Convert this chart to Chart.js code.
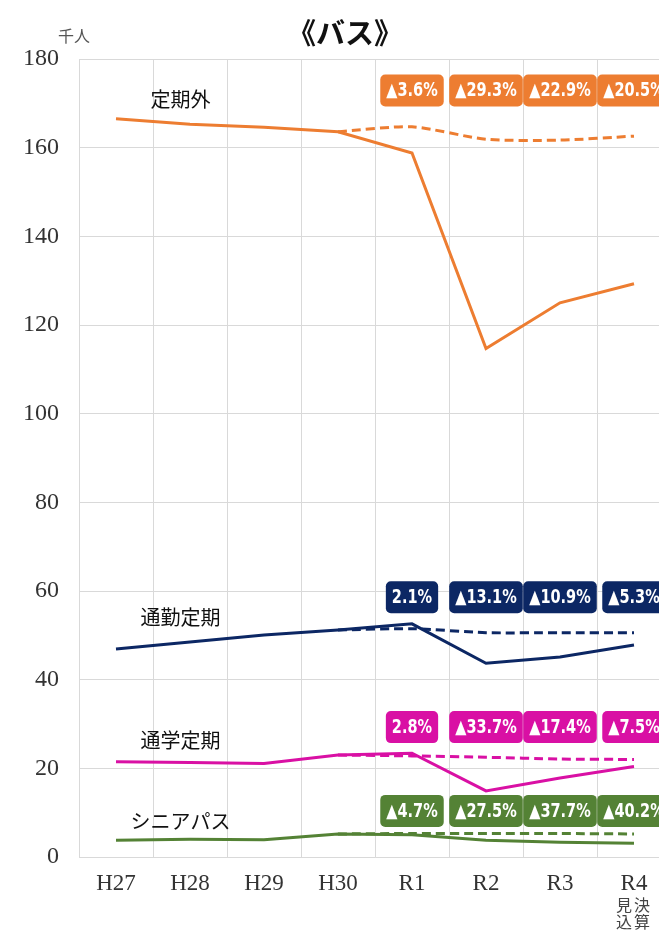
<!DOCTYPE html>
<html>
<head>
<meta charset="utf-8">
<script src="https://cdn.jsdelivr.net/npm/chart.js@4"></script>
<style>
  body { margin: 0; background: #fff; overflow: hidden; width: 659px; height: 931px; }
  #wrap { width: 690px; height: 931px; }
</style>
</head>
<body>
<div id="wrap"><canvas id="busChart" width="690" height="931"></canvas></div>
<script>
const years = ["H27", "H28", "H29", "H30", "R1", "R2", "R3", "R4"];
const noteR4 = "決算見込";

// solid = actual, dashed = plan (千人)
const teikigai     = [166.5, 165.3, 164.6, 163.6, 158.8, 114.7, 125.0, 129.3];
const teikigaiPlan = [null, null, null, 163.6, 164.7, 161.9, 161.7, 162.6];
const tsukin       = [46.9, 48.5, 50.1, 51.2, 52.6, 43.7, 45.1, 47.8];
const tsukinPlan   = [null, null, null, 51.2, 51.5, 50.6, 50.6, 50.6];
const tsugaku      = [21.5, 21.3, 21.1, 23.0, 23.4, 14.9, 17.8, 20.4];
const tsugakuPlan  = [null, null, null, 23.0, 22.8, 22.5, 22.1, 22.0];
const senior       = [3.8, 4.0, 3.9, 5.2, 5.0, 3.8, 3.3, 3.1];
const seniorPlan   = [null, null, null, 5.2, 5.3, 5.3, 5.3, 5.2];

const teikigaiBadges = ["▲3.6%", "▲29.3%", "▲22.9%", "▲20.5%"];
const tsukinBadges   = ["2.1%", "▲13.1%", "▲10.9%", "▲5.3%"];
const tsugakuBadges  = ["2.8%", "▲33.7%", "▲17.4%", "▲7.5%"];
const seniorBadges   = ["▲4.7%", "▲27.5%", "▲37.7%", "▲40.2%"];

const ORANGE = "#ed7d31";
const NAVY = "#0c2764";
const MAGENTA = "#d910a4";
const GREEN = "#548235";

const series = [
  { name: "定期外",   actual: teikigai, plan: teikigaiPlan, badges: teikigaiBadges, color: ORANGE,  nameY: 170.8, badgeY: 172.9 },
  { name: "通勤定期", actual: tsukin,   plan: tsukinPlan,   badges: tsukinBadges,   color: NAVY,    nameY: 54.1,  badgeY: 58.6 },
  { name: "通学定期", actual: tsugaku,  plan: tsugakuPlan,  badges: tsugakuBadges,  color: MAGENTA, nameY: 26.2,  badgeY: 29.3 },
  { name: "シニアパス", actual: senior, plan: seniorPlan,   badges: seniorBadges,   color: GREEN,   nameY: 8.1,   badgeY: 10.4 }
];

let datasets = [];
for (let i = 0; i < series.length; i++) {
  let s = series[i];
  datasets.push({ data: s.plan, borderColor: s.color, borderWidth: 3, borderDash: [9, 5], pointRadius: 0, tension: 0.25 });
  datasets.push({ data: s.actual, borderColor: s.color, borderWidth: 3, pointRadius: 0, tension: 0 });
}

function roundRect(ctx, x, y, w, h, r) {
  ctx.beginPath();
  ctx.moveTo(x + r, y);
  ctx.arcTo(x + w, y, x + w, y + h, r);
  ctx.arcTo(x + w, y + h, x, y + h, r);
  ctx.arcTo(x, y + h, x, y, r);
  ctx.arcTo(x, y, x + w, y, r);
  ctx.closePath();
}

const SQUEEZE = 0.85;   // badge text is narrow in the original

const extras = {
  id: "extras",
  afterDraw: function (chart) {
    let ctx = chart.ctx;
    let xs = chart.scales.x;
    let ys = chart.scales.y;
    ctx.save();

    // title and unit
    ctx.fillStyle = "#111";
    ctx.textAlign = "center";
    ctx.textBaseline = "middle";
    ctx.font = "bold 29px 'Noto Sans CJK JP'";
    ctx.fillText("《バス》", 345, 33);
    ctx.fillStyle = "#555";
    ctx.font = "16px 'Noto Sans CJK JP'";
    ctx.fillText("千人", 74, 36);

    for (let i = 0; i < series.length; i++) {
      let s = series[i];
      // series name
      ctx.fillStyle = "#111";
      ctx.font = "20px 'Noto Sans CJK JP'";
      ctx.fillText(s.name, xs.getPixelForValue(0.87), ys.getPixelForValue(s.nameY));
      // badges over R1..R4
      ctx.font = "bold 19px 'DejaVu Sans Condensed'";
      for (let j = 0; j < s.badges.length; j++) {
        let cx = xs.getPixelForValue(4 + j);
        let cy = ys.getPixelForValue(s.badgeY);
        let w = ctx.measureText(s.badges[j]).width * SQUEEZE + 12;
        ctx.fillStyle = s.color;
        roundRect(ctx, cx - w / 2, cy - 16, w, 32, 5);
        ctx.fill();
        ctx.fillStyle = "#fff";
        ctx.save();
        ctx.translate(cx, cy + 1);
        ctx.scale(SQUEEZE, 1);
        ctx.fillText(s.badges[j], 0, 0);
        ctx.restore();
      }
    }

    // note under R4, vertical columns read right to left
    ctx.fillStyle = "#444";
    ctx.font = "16px 'Noto Sans CJK JP'";
    let nx = xs.getPixelForValue(7);
    ctx.fillText(noteR4[0], nx + 8, 905);
    ctx.fillText(noteR4[1], nx + 8, 922);
    ctx.fillText(noteR4[2], nx - 10, 905);
    ctx.fillText(noteR4[3], nx - 10, 922);
    ctx.restore();
  }
};

new Chart(document.getElementById("busChart"), {
  type: "line",
  data: { labels: years, datasets: datasets },
  options: {
    responsive: false,
    animation: false,
    events: [],
    layout: { padding: { top: 59, right: 19, bottom: 0, left: 0 } },
    plugins: { legend: { display: false }, tooltip: { enabled: false } },
    scales: {
      x: {
        offset: true,
        grid: { offset: true, color: "#d9d9d9", lineWidth: 1, drawTicks: false },
        border: { color: "#d9d9d9" },
        ticks: { color: "#333", padding: 13, font: { family: "'Liberation Serif'", size: 23 }, maxRotation: 0 },
        afterFit: function (scale) { scale.height = 74; }
      },
      y: {
        min: 0,
        max: 180,
        grid: { color: "#d9d9d9", lineWidth: 1, drawTicks: false },
        border: { color: "#d9d9d9" },
        ticks: { stepSize: 20, color: "#333", padding: 20, font: { family: "'Liberation Serif'", size: 24 } },
        afterFit: function (scale) { scale.width = 79; }
      }
    }
  },
  plugins: [extras]
});
</script>
</body>
</html>
